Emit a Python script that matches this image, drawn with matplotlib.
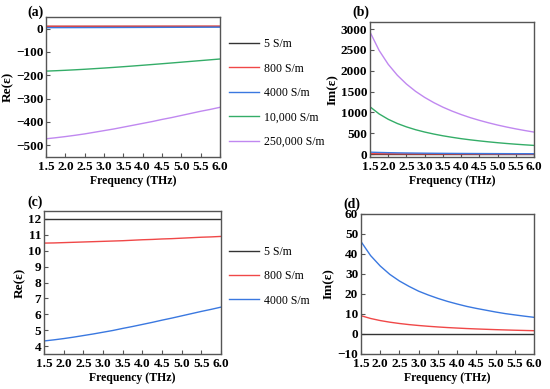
import matplotlib
matplotlib.use("Agg")
import matplotlib.pyplot as plt
from matplotlib.lines import Line2D

plt.rcParams['font.family'] = ['Liberation Serif', 'DejaVu Serif']
plt.rcParams['font.weight'] = 'bold'
plt.rcParams['mathtext.fontset'] = 'stix'

freq = [1.5, 1.75, 2.0, 2.25, 2.5, 2.75, 3.0, 3.25, 3.5, 3.75, 4.0,
        4.25, 4.5, 4.75, 5.0, 5.25, 5.5, 5.75, 6.0]

labels = ['5 S/m', '800 S/m', '4000 S/m', '10,000 S/m', '250,000 S/m']
colors = ['#333333', '#F04848', '#3A78E0', '#34AD68', '#C088F0']

re_5 = [12.0] * 19
re_800 = [10.48, 10.49, 10.51, 10.53, 10.55, 10.57, 10.59, 10.61, 10.63, 10.66,
          10.69, 10.71, 10.74, 10.76, 10.79, 10.82, 10.85, 10.87, 10.90]
re_4000 = [4.32, 4.39, 4.47, 4.56, 4.66, 4.76, 4.87, 4.98, 5.11, 5.23,
           5.36, 5.49, 5.63, 5.76, 5.90, 6.04, 6.18, 6.31, 6.45]
re_10k = [-182, -180.3, -178.4, -176.3, -174, -171.4, -168.8, -166, -163, -160,
          -156.8, -153.6, -150.3, -147, -143.6, -140.2, -136.8, -133.4, -130]
re_250k = [-472, -467.5, -462.5, -457, -451, -444, -437, -430, -422, -414,
           -406, -398, -389, -381, -372, -363, -354, -346, -337]

im_5 = [0.0] * 19
im_800 = [9.15, 7.76, 6.72, 5.91, 5.25, 4.70, 4.25, 3.86, 3.52, 3.22,
          2.97, 2.73, 2.53, 2.35, 2.18, 2.03, 1.89, 1.77, 1.65]
im_4000 = [46.2, 39.2, 34.0, 29.8, 26.5, 23.8, 21.4, 19.5, 17.8, 16.3,
           15.0, 13.8, 12.8, 11.9, 11.0, 10.2, 9.55, 8.92, 8.34]
im_10k = [1135, 964, 835, 734, 653, 585, 529, 481, 439, 403,
          370, 342, 317, 294, 273, 254, 237, 222, 208]
im_250k = [2930, 2488, 2154, 1892, 1681, 1506, 1360, 1235, 1126, 1032,
           949, 875, 810, 751, 697, 649, 605, 565, 528]

xticks = [1.5, 2.0, 2.5, 3.0, 3.5, 4.0, 4.5, 5.0, 5.5, 6.0]

fig = plt.figure(figsize=(5.5, 3.89), dpi=100)
W, H = 550, 389

def mkax(l, t, r, b):
    return fig.add_axes([l / W, 1 - b / H, (r - l) / W, (b - t) / H])

axa = mkax(46, 17, 220, 157)
axb = mkax(370, 22, 534, 157)
axc = mkax(44, 211, 221, 354)
axd = mkax(361, 214, 534, 354)

re_all = [re_5, re_800, re_4000, re_10k, re_250k]
im_all = [im_5, im_800, im_4000, im_10k, im_250k]

for ys, c in zip(re_all, colors):
    axa.plot(freq, ys, color=c, lw=1.0)
for ys, c in zip(im_all, colors):
    axb.plot(freq, ys, color=c, lw=1.0)
for ys, c in zip(re_all[:3], colors[:3]):
    axc.plot(freq, ys, color=c, lw=1.0)
for ys, c in zip(im_all[:3], colors[:3]):
    axd.plot(freq, ys, color=c, lw=1.0)

axa.set_ylim(-550, 50)
axa.set_yticks([0, -100, -200, -300, -400, -500])
axa.set_yticklabels(['0', '\u2212100', '\u2212200', '\u2212300', '\u2212400', '\u2212500'])
axb.set_ylim(-70, 3170)
axb.set_yticks([0, 500, 1000, 1500, 2000, 2500, 3000])
axc.set_ylim(3.5, 12.5)
axc.set_yticks(list(range(4, 13)))
axd.set_ylim(-10, 60)
axd.set_yticks([-10, 0, 10, 20, 30, 40, 50, 60])
axd.set_yticklabels(['\u221210', '0', '10', '20', '30', '40', '50', '60'])

for ax, yl in [(axa, 'Re(\u03b5)'), (axb, 'Im(\u03b5)'), (axc, 'Re(\u03b5)'), (axd, 'Im(\u03b5)')]:
    ax.set_xlim(1.5, 6.0)
    ax.set_xticks(xticks)
    ax.set_xticklabels([f'{v:.1f}' for v in xticks])
    ax.tick_params(direction='in', length=3, width=0.8, color='#555555',
                   labelsize=9.5)
    ax.tick_params(axis='x', pad=3)
    ax.tick_params(axis='y', pad=2)
    for lab in ax.get_xticklabels() + ax.get_yticklabels():
        lab.set_fontweight('bold')
    ax.set_xlabel('Frequency (THz)', fontsize=8.5, fontweight='bold', labelpad=1)
    ax.set_ylabel(yl, fontsize=9.5, fontweight='bold', labelpad=1.5)
    for s in ax.spines.values():
        s.set_color('#555555')
        s.set_linewidth(1.0)

for txt, x, y in [('(a)', 36, 12), ('(b)', 361, 12), ('(c)', 35, 202), ('(d)', 352, 204)]:
    fig.text(x / W, 1 - y / H, txt, fontsize=10, fontweight='bold',
             ha='center', va='center')

h1 = [Line2D([], [], color=c, lw=1.0) for c in colors]
leg_kw = dict(loc='upper left', frameon=False, handlelength=2.6, handletextpad=0.35,
              labelspacing=1.05, borderaxespad=0,
              prop={'size': 8.5, 'weight': 'normal', 'family': ['Liberation Serif']})
fig.legend(h1, labels, bbox_to_anchor=(224 / W, 1 - 33.5 / H), **leg_kw)
fig.legend(h1[:3], labels[:3], bbox_to_anchor=(224 / W, 1 - 241 / H), **leg_kw)

fig.savefig('out.png', dpi=100)
